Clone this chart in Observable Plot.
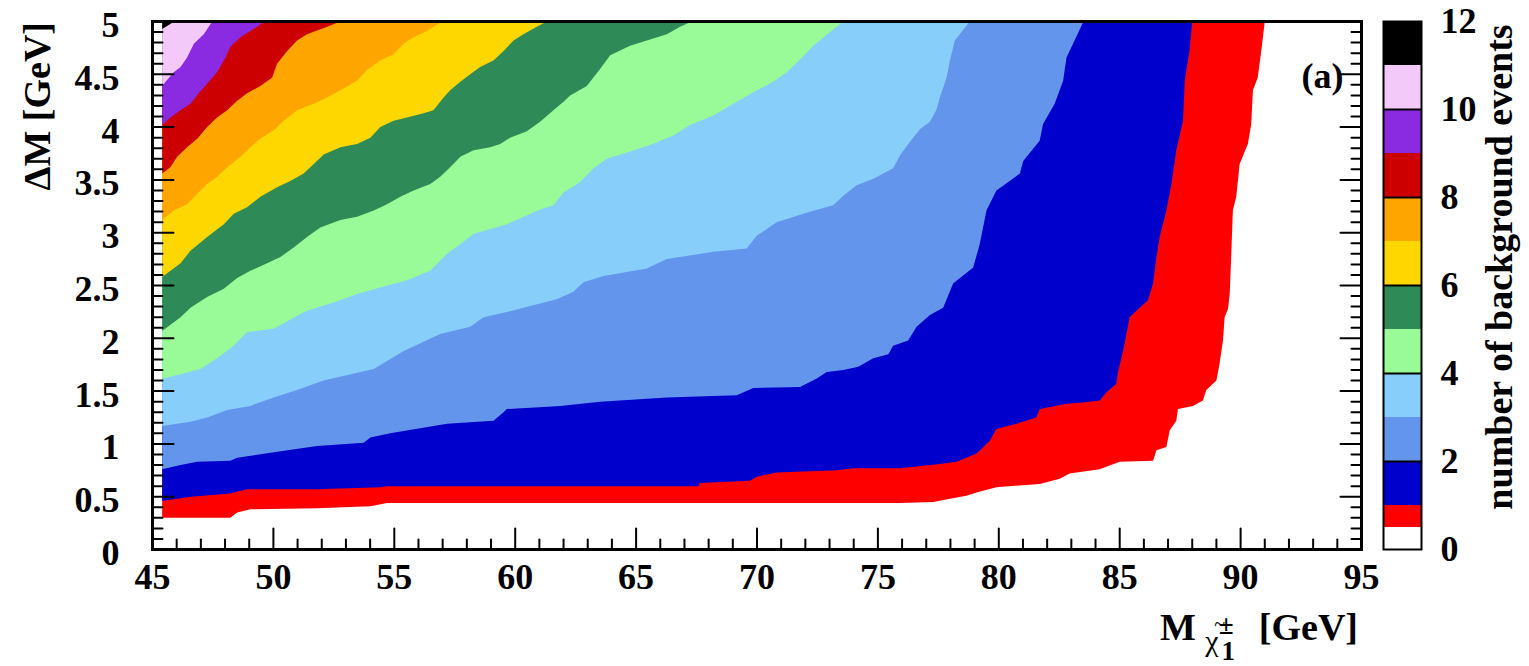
<!DOCTYPE html>
<html><head><meta charset="utf-8">
<script src="https://cdn.jsdelivr.net/npm/d3@7"></script>
<script src="https://cdn.jsdelivr.net/npm/@observablehq/plot@0.6"></script>
<style>
html,body{margin:0;padding:0;background:#fff;}
#wrap{position:relative;width:1529px;height:666px;overflow:hidden;background:#fff;}
#wrap svg{position:absolute;top:0;}
</style></head><body><div id="wrap"></div>
<script>
// ---------------- data ----------------
const xDomain = [45, 95];
const yDomain = [0, 5];
const xDataStart = 45.4;               // first filled bin edge
const xMajorTicks = [45, 50, 55, 60, 65, 70, 75, 80, 85, 90, 95];
const xMinorTicks = d3.range(46, 95).filter(v => v % 5 !== 0);
const yMajorTicks = [0, 0.5, 1, 1.5, 2, 2.5, 3, 3.5, 4, 4.5, 5];
const yMinorTicks = d3.range(1, 50).filter(i => i % 5 !== 0).map(i => i / 10);

// contour levels of the colour palette and their colours
const levelEdges = [0, 0.5, 1, 2, 3, 4, 5, 6, 7, 8, 9, 10, 11, 12];
const levelColors = ["#ffffff", "#ff0000", "#0000cc", "#6495ed", "#87cefa", "#98fb98",
                     "#2e8b57", "#ffd700", "#ffa500", "#cc0000", "#8a2be2", "#f2c9f9", "#000000"];
const colorbarTicks = [0, 2, 4, 6, 8, 10, 12];

// contour boundaries [M, dM]: region above/left has >= level events
const boundary0p5 = [[45.4,0.30],[48.22,0.30],[48.5,0.35],[49.05,0.38],[51.81,0.39],[54.01,0.41],[54.7,0.44],[75.91,0.44],[77.29,0.45],[77.98,0.48],[78.66,0.51],[79.08,0.54],[79.9,0.59],[81.69,0.62],[82.52,0.67],[82.93,0.72],[84.17,0.76],[85.0,0.83],[86.38,0.84],[86.52,0.94],[86.93,0.97],[87.07,1.13],[87.34,1.22],[87.41,1.33],[88.03,1.36],[88.44,1.41],[88.58,1.51],[89.0,1.60],[89.13,1.76],[89.27,1.98],[89.34,2.20],[89.48,2.28],[89.55,2.42],[89.61,2.77],[89.68,3.21],[89.82,3.34],[89.96,3.65],[90.3,3.84],[90.44,4.03],[90.51,4.35],[90.71,4.47],[90.86,4.73],[91.0,5.0]];
const boundary1 = [[45.4,0.46],[46.57,0.50],[48.22,0.53],[48.91,0.57],[51.81,0.57],[54.42,0.59],[54.7,0.60],[61.86,0.60],[67.57,0.60],[67.64,0.63],[69.71,0.65],[69.99,0.69],[70.81,0.73],[73.29,0.75],[73.98,0.77],[75.91,0.77],[77.56,0.81],[78.25,0.83],[79.08,0.91],[79.63,1.03],[79.9,1.14],[80.73,1.19],[81.55,1.25],[81.69,1.33],[82.8,1.38],[83.35,1.39],[84.17,1.41],[84.45,1.49],[84.86,1.57],[84.93,1.68],[85.14,1.88],[85.28,2.04],[85.41,2.20],[85.69,2.26],[86.17,2.36],[86.38,2.52],[86.52,2.77],[86.65,2.96],[86.93,3.21],[87.14,3.46],[87.34,3.78],[87.62,4.06],[87.69,4.44],[87.89,4.73],[88.0,5.0]];
const boundary2 = [[45.4,0.76],[46.16,0.80],[46.85,0.83],[48.22,0.84],[48.5,0.87],[50.01,0.92],[51.81,0.98],[53.73,1.01],[54.01,1.06],[54.83,1.10],[57.18,1.19],[59.1,1.22],[59.52,1.30],[59.65,1.33],[61.17,1.35],[61.86,1.36],[63.51,1.40],[66.27,1.44],[69.16,1.46],[69.85,1.53],[71.78,1.54],[72.47,1.62],[72.88,1.68],[73.57,1.70],[74.19,1.73],[74.81,1.81],[75.43,1.85],[75.63,1.93],[76.25,1.98],[76.6,2.11],[77.15,2.22],[77.7,2.29],[78.11,2.52],[78.94,2.67],[79.21,2.89],[79.49,3.21],[79.9,3.40],[80.87,3.56],[81.01,3.68],[81.69,3.87],[81.83,4.03],[82.31,4.22],[82.66,4.44],[82.8,4.66],[83.07,4.79],[83.5,5.0]];
const boundary3 = [[45.4,1.17],[46.57,1.21],[47.26,1.25],[48.09,1.32],[49.05,1.36],[50.01,1.44],[50.98,1.51],[52.08,1.60],[54.15,1.71],[55.39,1.88],[56.9,2.04],[58.14,2.11],[58.69,2.20],[59.66,2.25],[61.03,2.33],[61.72,2.37],[62.41,2.44],[62.82,2.53],[63.65,2.59],[65.44,2.66],[66.27,2.75],[68.2,2.82],[69.57,2.85],[69.99,2.97],[70.81,3.10],[72.05,3.19],[73.15,3.26],[73.57,3.35],[74.12,3.45],[74.81,3.51],[75.63,3.61],[75.91,3.73],[76.32,3.86],[76.74,3.98],[77.15,4.05],[77.43,4.17],[77.56,4.28],[77.84,4.47],[77.98,4.63],[78.18,4.82],[78.8,5.0]];
const boundary4 = [[45.4,1.62],[46.16,1.66],[46.98,1.71],[47.67,1.81],[48.36,1.93],[48.91,2.06],[50.01,2.09],[51.12,2.23],[51.39,2.26],[52.08,2.31],[52.77,2.36],[53.46,2.42],[54.42,2.48],[55.52,2.55],[56.49,2.64],[57.18,2.80],[57.73,2.89],[58.28,2.99],[59.66,3.08],[61.03,3.22],[61.58,3.26],[62.0,3.38],[62.69,3.48],[63.24,3.61],[63.79,3.70],[64.62,3.76],[65.58,3.83],[66.54,3.92],[67.23,4.02],[68.2,4.11],[69.16,4.24],[69.85,4.33],[70.67,4.43],[71.23,4.52],[71.78,4.64],[72.33,4.77],[73.02,4.90],[73.57,5.0]];
const boundary5 = [[45.4,2.07],[46.16,2.20],[46.57,2.29],[47.26,2.39],[47.95,2.47],[48.5,2.57],[49.05,2.64],[49.74,2.71],[50.29,2.77],[50.84,2.86],[51.39,2.96],[51.94,3.05],[52.77,3.12],[53.46,3.15],[54.15,3.21],[54.7,3.27],[55.25,3.34],[55.8,3.40],[56.49,3.46],[56.9,3.53],[57.31,3.62],[57.73,3.72],[58.28,3.78],[58.97,3.81],[59.38,3.84],[59.79,3.90],[60.48,3.96],[61.03,4.05],[61.58,4.16],[62.0,4.24],[62.27,4.30],[62.96,4.39],[63.51,4.55],[63.93,4.68],[64.75,4.77],[66.27,4.88],[66.82,4.95],[67.3,5.0]];
const boundary6 = [[45.4,2.58],[46.16,2.71],[46.57,2.83],[47.26,2.96],[47.95,3.08],[48.36,3.18],[48.91,3.24],[49.46,3.34],[50.15,3.43],[50.7,3.49],[51.25,3.56],[51.67,3.65],[52.08,3.74],[52.77,3.81],[53.46,3.84],[54.01,3.90],[54.42,4.0],[54.97,4.06],[55.52,4.09],[56.21,4.13],[56.62,4.16],[57.04,4.28],[57.31,4.35],[57.73,4.43],[58.14,4.50],[58.55,4.57],[59.1,4.63],[59.52,4.72],[59.93,4.82],[60.34,4.88],[60.89,4.95],[61.31,5.0]];
const boundary7 = [[45.4,3.12],[45.88,3.21],[46.43,3.27],[46.85,3.37],[47.26,3.46],[47.67,3.53],[48.09,3.62],[48.64,3.72],[49.05,3.81],[49.46,3.89],[50.01,3.97],[50.43,4.06],[50.98,4.16],[51.67,4.22],[52.22,4.28],[52.77,4.35],[53.46,4.44],[53.87,4.54],[54.42,4.63],[54.97,4.69],[55.38,4.79],[55.8,4.85],[56.35,4.91],[56.97,5.0]];
const boundary8 = [[45.4,3.56],[45.74,3.62],[46.02,3.72],[46.43,3.81],[46.85,3.89],[47.26,4.0],[47.67,4.09],[48.09,4.16],[48.5,4.25],[48.91,4.32],[49.46,4.39],[49.95,4.47],[50.15,4.60],[50.57,4.72],[50.98,4.82],[51.39,4.88],[52.22,4.95],[52.77,5.0]];
const boundary9 = [[45.4,4.02],[45.74,4.09],[46.16,4.16],[46.57,4.22],[46.91,4.32],[47.26,4.41],[47.67,4.52],[48.02,4.66],[48.22,4.76],[48.64,4.85],[49.05,4.91],[49.67,5.0]];
const boundary10 = [[45.4,4.39],[45.54,4.43],[45.88,4.52],[46.16,4.57],[46.43,4.66],[46.71,4.79],[47.12,4.88],[47.47,5.0]];
const boundary11 = [[45.4,4.93],[45.9,5.0]];

const boundaries = [boundary0p5, boundary1, boundary2, boundary3, boundary4, boundary5,
                    boundary6, boundary7, boundary8, boundary9, boundary10, boundary11];

// ---------------- drawing ----------------
const font = "'Liberation Serif','Times New Roman',serif";
const tickShape = {draw(ctx, l) { ctx.moveTo(0, 0); ctx.lineTo(0, -l); }};
const tickOpts = {anchor: "start", shape: tickShape, stroke: "black", strokeWidth: 2};

const regionMarks = boundaries.map((b, i) =>
  Plot.line([...b, [xDataStart, yDomain[1]]], {
    x: d => d[0], y: d => d[1], fill: levelColors[i + 1], stroke: "none"
  }));

const main = Plot.plot({
  width: 1529, height: 666,
  marginLeft: 152, marginRight: 168, marginTop: 21, marginBottom: 117,
  style: {fontFamily: font, fontWeight: "bold", background: "white", overflow: "visible"},
  x: {domain: xDomain},
  y: {domain: yDomain},
  marks: [
    ...regionMarks,
    Plot.vector(xMinorTicks, {x: d => d, frameAnchor: "bottom", length: 10, rotate: 0, ...tickOpts}),
    Plot.vector(xMajorTicks, {x: d => d, frameAnchor: "bottom", length: 21, rotate: 0, ...tickOpts}),
    Plot.vector(yMinorTicks, {y: d => d, frameAnchor: "left", length: 10, rotate: 90, ...tickOpts}),
    Plot.vector(yMajorTicks, {y: d => d, frameAnchor: "left", length: 21, rotate: 90, ...tickOpts}),
    Plot.vector(yMinorTicks, {y: d => d, frameAnchor: "right", length: 10, rotate: -90, ...tickOpts}),
    Plot.vector(yMajorTicks, {y: d => d, frameAnchor: "right", length: 21, rotate: -90, ...tickOpts}),
    Plot.frame({stroke: "black", strokeWidth: 3}),
    Plot.axisX({ticks: xMajorTicks, tickSize: 0, tickPadding: 14, fontSize: 36, label: null, tickFormat: d => String(d)}),
    Plot.axisY({ticks: yMajorTicks, tickSize: 0, tickPadding: 33, fontSize: 36, dy: 4, label: null, tickFormat: d => String(d)}),
    Plot.text(["(a)"], {text: d => d, frameAnchor: "top-right", textAnchor: "end", lineAnchor: "middle", dx: -18, dy: 55, fontSize: 36})
  ]
});

const bands = levelColors.slice(0, levelEdges.length - 1).map((c, i) => ({lo: levelEdges[i], hi: levelEdges[i + 1], color: c}));

const cb = Plot.plot({
  width: 146, height: 666,
  marginLeft: 0, marginRight: 108, marginTop: 21, marginBottom: 117,
  style: {fontFamily: font, fontWeight: "bold", background: "transparent", overflow: "visible"},
  x: {domain: [0, 1], axis: null},
  y: {domain: [0, 12]},
  color: {type: "identity"},
  marks: [
    Plot.rect(bands, {x1: () => 0, x2: () => 1, y1: "lo", y2: "hi", fill: "color"}),
    Plot.ruleY(colorbarTicks.slice(1, -1), {stroke: "black", strokeWidth: 2}),
    Plot.frame({stroke: "black", strokeWidth: 2}),
    Plot.axisY({anchor: "right", ticks: colorbarTicks, tickSize: 0, tickPadding: 19, fontSize: 36, label: null, tickFormat: d => String(d)})
  ]
});

const wrap = document.getElementById("wrap");
main.style.left = "0px";
cb.style.left = "1383px";
wrap.appendChild(main);
wrap.appendChild(cb);

// titles
const ms = d3.select(main);
ms.append("text")
  .attr("transform", "translate(50,22) rotate(-90)")
  .attr("text-anchor", "end")
  .attr("font-family", font).attr("font-weight", "bold").attr("font-size", 38)
  .text("ΔM [GeV]");

const xt = ms.append("g").attr("font-family", font).attr("fill", "black");
const mText = xt.append("text").attr("x", 1178).attr("y", 640).attr("font-size", 38).attr("font-weight", "bold").text("M");
const mEnd = 1178 + mText.node().getComputedTextLength();
const chiX = mEnd - 2;
const chiText = xt.append("text").attr("x", chiX).attr("y", 651).attr("font-size", 30).attr("font-weight", "normal").text("χ");
const chiW = chiText.node().getComputedTextLength();
xt.append("text").attr("x", chiX + chiW / 2 + 1).attr("y", 631).attr("font-size", 20).attr("font-weight", "normal").attr("text-anchor", "middle").text("~");
xt.append("text").attr("x", chiX + chiW + 1).attr("y", 634).attr("font-size", 27).attr("font-weight", "bold").text("±");
xt.append("text").attr("x", chiX + chiW + 3).attr("y", 660).attr("font-size", 27).attr("font-weight", "bold").text("1");
xt.append("text").attr("x", 1358).attr("y", 640).attr("font-size", 38).attr("font-weight", "bold").attr("text-anchor", "end").text("[GeV]");

d3.select(cb).append("text")
  .attr("transform", "translate(129,267) rotate(-90)")
  .attr("text-anchor", "middle")
  .attr("font-family", font).attr("font-weight", "bold").attr("font-size", 38)
  .text("number of background events");
</script></body></html>
